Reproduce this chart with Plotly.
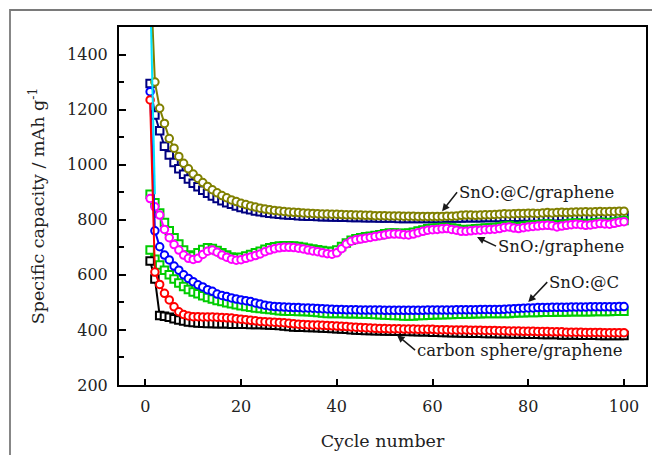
import plotly.graph_objects as go

cycles = list(range(1, 101))

# SnO2@C/graphene (olive circles, navy squares)
snc_g_olive = [1720, 1300, 1205, 1150, 1095, 1060, 1030, 1005, 985, 966,
               950, 935, 921, 909, 898, 888, 880, 872, 866, 860,
               855, 850, 846, 842, 839, 836, 834, 832, 830, 828,
               827, 826, 825, 824, 823, 822, 821, 821, 820, 820,
               819, 818, 818, 817, 817, 816, 816, 815, 815, 815,
               814, 814, 814, 813, 813, 813, 812, 812, 812, 812,
               812, 812, 813, 813, 814, 816, 817, 817, 816, 817,
               818, 818, 819, 820, 822, 821, 822, 823, 823, 824,
               824, 823, 825, 826, 825, 826, 827, 826, 827, 828,
               828, 829, 828, 829, 830, 829, 830, 830, 831, 831]
snc_g_navy = [1295, 1180, 1123, 1067, 1035, 1008, 985, 965, 948, 933,
              920, 907, 896, 886, 877, 869, 862, 856, 850, 845,
              840, 836, 832, 829, 826, 824, 822, 820, 818, 817,
              816, 815, 814, 813, 813, 812, 811, 811, 810, 810,
              809, 809, 808, 808, 808, 807, 807, 807, 806, 806,
              806, 806, 805, 805, 805, 805, 805, 805, 805, 805,
              805, 805, 806, 806, 806, 806, 807, 807, 807, 807,
              808, 808, 808, 808, 809, 809, 809, 809, 810, 810,
              810, 810, 811, 811, 811, 811, 812, 812, 812, 812,
              813, 813, 813, 813, 814, 814, 814, 814, 815, 815]

# SnO2/graphene (magenta circles, green squares)
sn_g_magenta = [877, 847, 817, 765, 735, 710, 690, 672, 660, 656,
                660, 674, 686, 690, 682, 672, 664, 657, 653, 655,
                660, 665, 670, 676, 684, 690, 695, 698, 700, 700,
                699, 697, 694, 690, 687, 684, 680, 677, 675, 680,
                695, 712, 722, 727, 730, 733, 736, 739, 742, 745,
                748, 748, 748, 746, 745, 748, 753, 758, 762, 764,
                765, 767, 768, 765, 762, 758, 758, 760, 762, 762,
                764, 765, 766, 768, 772, 774, 770, 768, 771, 774,
                776, 777, 779, 780, 778, 774, 777, 780, 782, 784,
                782, 780, 781, 784, 786, 785, 784, 787, 791, 793]
sn_g_green = [893, 862, 825, 790, 760, 735, 712, 690, 672, 668,
              680, 692, 698, 696, 688, 680, 672, 665, 662, 664,
              668, 674, 680, 686, 693, 698, 702, 705, 706, 706,
              705, 703, 700, 697, 694, 691, 688, 686, 685, 690,
              703, 716, 726, 731, 735, 738, 740, 743, 746, 749,
              752, 752, 751, 750, 752, 755, 759, 763, 767, 769,
              770, 772, 772, 770, 768, 765, 764, 766, 767, 768,
              770, 771, 772, 774, 777, 779, 776, 775, 777, 779,
              781, 782, 784, 785, 783, 780, 782, 785, 787, 788,
              787, 785, 786, 789, 791, 790, 789, 792, 795, 797]

# SnO2@C (blue circles, green squares)
snc_blue = [1265, 760, 702, 672, 654, 632, 617, 600, 587, 575,
            564, 556, 546, 540, 530, 525, 521, 516, 512, 509,
            506, 503, 498, 494, 490, 487, 485, 484, 483, 482,
            481, 481, 480, 480, 479, 478, 477, 476, 475, 474,
            474, 473, 473, 473, 472, 472, 472, 472, 472, 471,
            471, 471, 471, 471, 471, 471, 471, 471, 472, 472,
            472, 472, 472, 472, 473, 473, 473, 473, 473, 474,
            474, 474, 474, 474, 475, 476, 477, 478, 479, 480,
            480, 481, 481, 481, 482, 482, 482, 482, 483, 483,
            483, 483, 484, 484, 484, 484, 484, 484, 485, 485]
snc_green = [690, 657, 636, 617, 600, 585, 570, 558, 547, 538,
             531, 524, 518, 512, 507, 503, 499, 495, 491, 488,
             485, 482, 480, 478, 476, 474, 472, 470, 469, 468,
             468, 467, 467, 466, 465, 463, 461, 460, 460, 460,
             460, 459, 459, 459, 458, 458, 457, 456, 455, 454,
             453, 452, 452, 451, 451, 451, 452, 452, 453, 454,
             455, 455, 456, 456, 457, 457, 458, 458, 459, 459,
             460, 460, 460, 460, 460, 460, 461, 462, 462, 463,
             463, 463, 464, 464, 464, 465, 465, 465, 466, 466,
             466, 466, 466, 467, 467, 467, 467, 468, 468, 468]

# carbon sphere/graphene (red circles, black squares)
cs_g_red = [1235, 610, 565, 533, 509, 484, 466, 456, 451, 448,
            448, 447, 447, 447, 446, 445, 444, 443, 441, 439,
            437, 435, 433, 431, 430, 429, 428, 427, 426, 424,
            422, 421, 420, 419, 418, 418, 417, 416, 415, 414,
            413, 412, 411, 410, 409, 408, 407, 406, 405, 405,
            404, 404, 404, 403, 403, 403, 402, 402, 402, 402,
            401, 401, 401, 400, 400, 400, 400, 399, 399, 399,
            398, 398, 398, 397, 397, 396, 396, 396, 395, 395,
            395, 394, 394, 394, 393, 393, 393, 392, 392, 392,
            392, 391, 391, 391, 391, 390, 390, 390, 390, 390]
cs_g_black = [650, 585, 452, 450, 446, 441, 436, 432, 429, 427,
              425, 424, 423, 423, 422, 422, 422, 421, 421, 421,
              421, 420, 420, 420, 419, 418, 417, 416, 414, 412,
              411, 410, 410, 409, 409, 408, 407, 406, 405, 404,
              403, 402, 401, 400, 399, 398, 398, 397, 397, 396,
              396, 395, 395, 395, 394, 394, 393, 393, 393, 392,
              392, 391, 391, 390, 390, 389, 389, 388, 388, 388,
              387, 387, 387, 386, 386, 386, 385, 385, 385, 384,
              384, 384, 383, 383, 383, 383, 382, 382, 382, 382,
              381, 381, 381, 381, 380, 380, 380, 380, 380, 380]

# first-cycle cyan line
cyan_x = [1, 2]
cyan_y = [1650, 893]

x_ticks = [0, 20, 40, 60, 80, 100]
y_ticks = [200, 400, 600, 800, 1000, 1200, 1400]

FONT = "DejaVu Serif"

series = [
    (snc_g_navy, "#000080", "square"),
    (snc_g_olive, "#808000", "circle"),
    (sn_g_green, "#00CC00", "square"),
    (sn_g_magenta, "#FF00FF", "circle"),
    (snc_green, "#00CC00", "square"),
    (snc_blue, "#0000FF", "circle"),
    (cs_g_black, "#000000", "square"),
    (cs_g_red, "#FF0000", "circle"),
]

fig = go.Figure()
for vals, col, sym in series:
    fig.add_trace(go.Scatter(
        x=cycles, y=vals, mode="lines+markers",
        line=dict(color=col, width=2),
        marker=dict(symbol=sym, size=7.5, color="white",
                    line=dict(color=col, width=2)),
        showlegend=False, cliponaxis=True))

fig.add_trace(go.Scatter(x=cyan_x, y=cyan_y, mode="lines",
                         line=dict(color="#00E5FF", width=2),
                         showlegend=False))

ann_font = dict(family=FONT, size=16.5, color="#1a1a1a")
annos = [
    ("SnO:@C/graphene", 62.0, 831, 15, -19),
    ("SnO:/graphene", 69.3, 737, 19, 9),
    ("SnO:@C", 80.0, 501, 19, -20),
    ("carbon sphere/graphene", 52.6, 381, 18, 15),
]
for txt, xa, ya, ax, ay in annos:
    fig.add_annotation(x=xa, y=ya, xref="x", yref="y", text=txt,
                       showarrow=True, ax=ax, ay=ay, xanchor="left",
                       yanchor="middle", arrowhead=2, arrowsize=1,
                       arrowwidth=1.5, arrowcolor="#1a1a1a",
                       font=ann_font, standoff=0, startstandoff=0)

fig.add_shape(type="rect", xref="paper", yref="paper",
              x0=-0.20683, x1=1.0304, y0=-0.22346, y1=1.04749,
              line=dict(color="#7a7a7a", width=1.8), layer="below")

axis_common = dict(showline=True, linecolor="black", linewidth=2, mirror=True,
                   ticks="inside", tickcolor="black", tickwidth=2,
                   showgrid=False, zeroline=False,
                   tickfont=dict(family=FONT, size=16, color="#222222"))

fig.update_xaxes(range=[-5.5, 104.6], tickvals=x_ticks, ticklen=6,
                 ticklabelstandoff=6,
                 title=dict(text="Cycle number", standoff=20,
                            font=dict(family=FONT, size=17.5, color="#222222")),
                 **axis_common)
fig.update_yaxes(range=[200, 1500], tickvals=y_ticks, ticklen=7,
                 ticklabelstandoff=6,
                 minor=dict(ticks="inside", dtick=100, ticklen=5,
                            tickcolor="black", tickwidth=2),
                 title=dict(text="Specific capacity / mAh g<sup>-1</sup>", standoff=18,
                            font=dict(family=FONT, size=17.5, color="#222222")),
                 **axis_common)

fig.update_layout(width=652, height=455,
                  margin=dict(l=119, r=6, t=27, b=70, autoexpand=False),
                  paper_bgcolor="white", plot_bgcolor="white")

fig.write_html("out.html")
